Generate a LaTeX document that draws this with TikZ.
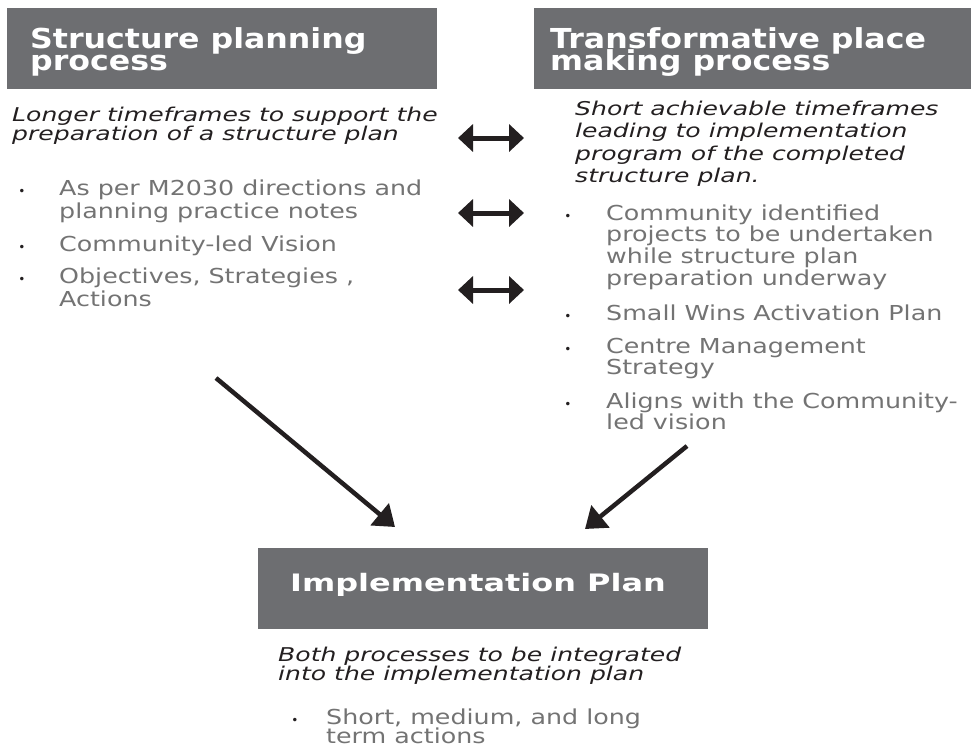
\documentclass[tikz,border=0pt]{standalone}
\usepackage{fontspec}
\setmainfont{DejaVu Sans}
\newfontfamily\hAfont{DejaVu Sans}[FakeStretch=1.15]
\newfontfamily\hBfont{DejaVu Sans}[FakeStretch=1.33]
\newfontfamily\itfont{DejaVu Sans}[FakeStretch=1.32]
\newfontfamily\bdfont{DejaVu Sans}[FakeStretch=1.23]
\usetikzlibrary{arrows.meta}
\definecolor{boxgray}{HTML}{6D6E71}
\definecolor{ink}{HTML}{231F20}
\definecolor{bodygray}{HTML}{737373}
\newcommand\setfs[2]{\fontsize{#1}{#2}\selectfont\lineskiplimit=-100pt\lineskip=0pt}
\begin{document}
\begin{tikzpicture}[x=1pt,y=-1pt,
  hbox/.style={fill=boxgray,draw=none,inner sep=0,anchor=north west,minimum height=81pt},
  htext/.style={anchor=base west,inner sep=0,text=white,align=left,font=\hAfont\bfseries\setfs{27.5}{21.5}},
  itnote/.style={anchor=base west,inner sep=0,text=ink,align=left,font=\itfont\itshape\setfs{19}{#1}},
  bodytxt/.style={anchor=base west,inner sep=0,text=bodygray,align=left,font=\bdfont\setfs{20.6}{#1}},
  bul/.style={anchor=base,inner sep=0,text=ink,font=\setfs{12}{12}},
  dblarrow/.style={line width=5pt,draw=ink,{Triangle[length=15pt,width=27pt]}-{Triangle[length=15pt,width=27pt]}},
  diagarrow/.style={line width=4.5pt,draw=ink,-{Triangle[length=20pt,width=28pt]}}]
\path[use as bounding box] (0,0) rectangle (971,747);

% boxes
\node[hbox,minimum width=430pt] (spbox) at (7,8) {};
\node[hbox,minimum width=437pt] (tpbox) at (534,8) {};
\node[hbox,minimum width=450pt] (ipbox) at (258,548) {};

% titles (multi-line nodes are anchored at the baseline of their last line)
\node[htext] (sptitle) at (30,70) {Structure planning\\process};
\node[htext] (tptitle) at (550,70) {Transformative place\\making process};
\node[anchor=base,inner sep=0,text=white,font=\hBfont\bfseries\setfs{24}{24}] (iptitle) at (478,591) {Implementation Plan};

% italic notes
\node[itnote=18.5] (spnote) at (12,140) {Longer timeframes to support the\\preparation of a structure plan};
\node[itnote=22.5] (tpnote) at (575,182.5) {Short achievable timeframes\\leading to implementation\\program of the completed\\structure plan.};
\node[itnote=19] (ipnote) at (278,680) {Both processes to be integrated\\into the implementation plan};

% left bullets
\node[bul] (spb1) at (22,195) {•};
\node[bodytxt=23] (sp1) at (59,218) {As per M2030 directions and\\planning practice notes};
\node[bul] (spb2) at (22,251) {•};
\node[bodytxt=23] (sp2) at (59,251) {Community-led Vision};
\node[bul] (spb3) at (22,283) {•};
\node[bodytxt=23] (sp3) at (59,306) {Objectives, Strategies ,\\Actions};

% right bullets
\node[bul] (tpb1) at (568,220) {•};
\node[bodytxt=21.7] (tp1) at (606,285.1) {Community identified\\projects to be undertaken\\while structure plan\\preparation underway};
\node[bul] (tpb2) at (568,320) {•};
\node[bodytxt=21.7] (tp2) at (606,320) {Small Wins Activation Plan};
\node[bul] (tpb3) at (568,353) {•};
\node[bodytxt=21.7] (tp3) at (606,374.7) {Centre Management\\Strategy};
\node[bul] (tpb4) at (568,408) {•};
\node[bodytxt=21.7] (tp4) at (606,429.7) {Aligns with the Community-\\led vision};

% bottom bullet
\node[bul] (ipb1) at (295,724.5) {•};
\node[bodytxt=18.5] (ip1) at (326,743) {Short, medium, and long\\term actions};

% double arrows
\coordinate (d1l) at (458,138); \coordinate (d1r) at (524,138);
\coordinate (d2l) at (458,213); \coordinate (d2r) at (524,213);
\coordinate (d3l) at (458,290); \coordinate (d3r) at (524,290);
\draw[dblarrow] (d1l) -- (d1r);
\draw[dblarrow] (d2l) -- (d2r);
\draw[dblarrow] (d3l) -- (d3r);

% diagonal arrows
\coordinate (a1s) at (216,378); \coordinate (a1e) at (395,527);
\coordinate (a2s) at (687,446); \coordinate (a2e) at (585,529);
\draw[diagarrow] (a1s) -- (a1e);
\draw[diagarrow] (a2s) -- (a2e);
\end{tikzpicture}
\end{document}
